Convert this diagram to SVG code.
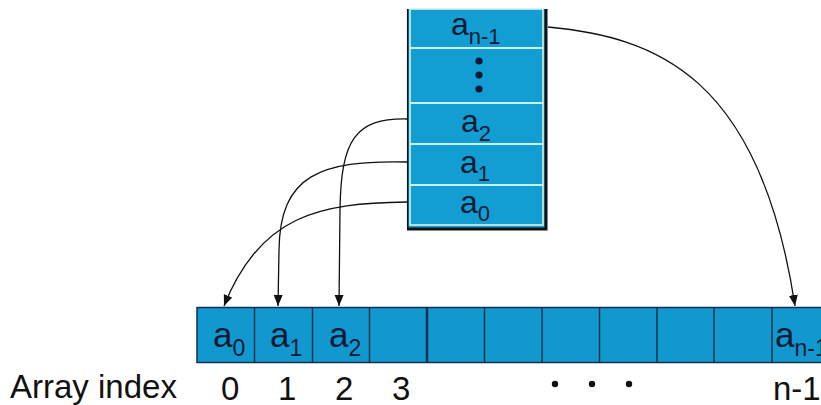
<svg xmlns="http://www.w3.org/2000/svg" width="821" height="405" viewBox="0 0 821 405">
<style>
.lbl{font-family:"Liberation Sans",Arial,sans-serif;fill:#0c1a35}
.a{font-size:32px}
.s{font-size:22px}
.ax{font-size:35px}
.axs{font-size:23px}
.idx{font-family:"Liberation Sans",Arial,sans-serif;font-size:33px;fill:#111}
.sep{stroke:#c8f2ee;stroke-width:2}
.cell{fill:#1199cf;stroke:#15304f;stroke-width:1.5}
.conn{fill:none;stroke:#111;stroke-width:1.3}
</style>
<defs>
<marker id="arr" markerUnits="userSpaceOnUse" markerWidth="12" markerHeight="12" viewBox="0 0 12 12" refX="11" refY="6" orient="auto">
<path d="M0,1.5 L11,6 L0,10.5 Z" fill="#111"/>
</marker>
</defs>
<g id="stack">
<rect x="407" y="9" width="139" height="219" fill="#129ed3"/>
<rect x="410" y="9" width="133" height="216" fill="none" stroke="#d6efe0" stroke-width="1.6"/>
<path d="M407.7,9 V228" stroke="#111" stroke-width="1.5" fill="none"/>
<path d="M546,9 V229 H407" stroke="#111" stroke-width="3" fill="none"/>
<line class="sep" x1="410" y1="48" x2="543" y2="48"/>
<line class="sep" x1="410" y1="103" x2="543" y2="103"/>
<line class="sep" x1="410" y1="144" x2="543" y2="144"/>
<line class="sep" x1="410" y1="185" x2="543" y2="185"/>
</g>
<g id="s-an1"><text class="lbl" x="451" y="35"><tspan class="a">a</tspan><tspan class="s" dy="9">n-1</tspan></text></g>
<g id="s-dots" fill="#0c1a35"><circle cx="479" cy="61" r="3.6"/><circle cx="479" cy="75" r="3.6"/><circle cx="479" cy="89" r="3.6"/></g>
<g id="s-a2"><text class="lbl" x="461" y="132"><tspan class="a">a</tspan><tspan class="s" dy="9">2</tspan></text></g>
<g id="s-a1"><text class="lbl" x="460" y="173"><tspan class="a">a</tspan><tspan class="s" dy="8">1</tspan></text></g>
<g id="s-a0"><text class="lbl" x="460" y="213"><tspan class="a">a</tspan><tspan class="s" dy="8">0</tspan></text></g>
<g id="array">
<rect class="cell" x="197" y="307.5" width="640" height="55"/>
<line class="cell" x1="254.5" y1="307.5" x2="254.5" y2="362.5"/>
<line class="cell" x1="312.5" y1="307.5" x2="312.5" y2="362.5"/>
<line class="cell" x1="369.5" y1="307.5" x2="369.5" y2="362.5"/>
<line class="cell" x1="427" y1="307.5" x2="427" y2="362.5" style="stroke-width:2.5"/>
<line class="cell" x1="484.5" y1="307.5" x2="484.5" y2="362.5"/>
<line class="cell" x1="542" y1="307.5" x2="542" y2="362.5"/>
<line class="cell" x1="599.5" y1="307.5" x2="599.5" y2="362.5"/>
<line class="cell" x1="657" y1="307.5" x2="657" y2="362.5"/>
<line class="cell" x1="714" y1="307.5" x2="714" y2="362.5"/>
<line class="cell" x1="772" y1="307.5" x2="772" y2="362.5"/>
</g>
<g id="c-a0"><text class="lbl" x="213" y="347"><tspan class="ax">a</tspan><tspan class="axs" dy="9">0</tspan></text></g>
<g id="c-a1"><text class="lbl" x="270" y="347"><tspan class="ax">a</tspan><tspan class="axs" dy="9">1</tspan></text></g>
<g id="c-a2"><text class="lbl" x="329" y="347"><tspan class="ax">a</tspan><tspan class="axs" dy="9">2</tspan></text></g>
<g id="c-an1"><text class="lbl" x="775" y="347"><tspan class="ax">a</tspan><tspan class="axs" dy="9">n-1</tspan></text></g>
<g id="index">
<text class="idx" x="10" y="398">Array index</text>
<text class="idx" x="221" y="400">0</text>
<text class="idx" x="278" y="400">1</text>
<text class="idx" x="335" y="400">2</text>
<text class="idx" x="392" y="400">3</text>
<g fill="#111"><circle cx="555" cy="384" r="3.2"/><circle cx="592" cy="384" r="3.2"/><circle cx="629" cy="384" r="3.2"/></g>
<text class="idx" x="773" y="400">n-1</text>
</g>
<g id="connectors">
<path class="conn" marker-end="url(#arr)" d="M548,27 C655,37 760,75 795,306"/>
<path class="conn" marker-end="url(#arr)" d="M407,119 C355,118 341,140 340,210 L339,306"/>
<path class="conn" marker-end="url(#arr)" d="M407,162 C320,160 280,175 279,250 L278,306"/>
<path class="conn" marker-end="url(#arr)" d="M407,202 C320,203 260,215 224,306"/>
</g>
</svg>
